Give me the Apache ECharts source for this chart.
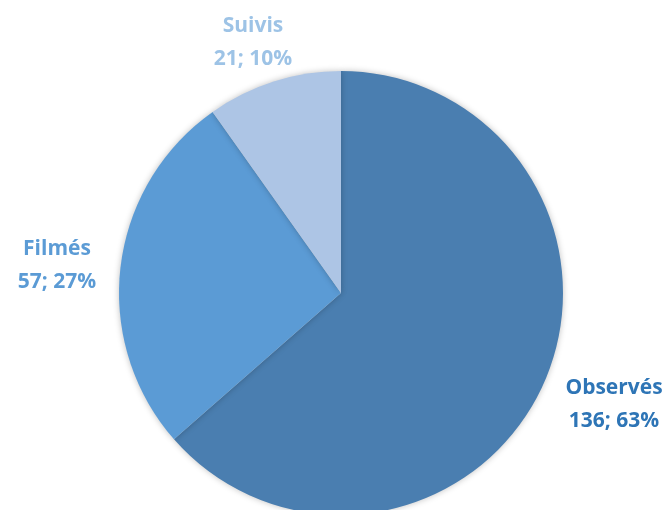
<!DOCTYPE html>
<html><head><meta charset="utf-8">
<script src="https://cdn.jsdelivr.net/npm/echarts@6/dist/echarts.min.js"></script>
<style>html,body{margin:0;padding:0;background:#fff}#c{width:668px;height:510px}</style>
</head><body><div id="c"></div>
<script>
const categories = ['Observés', 'Filmés', 'Suivis'];
const values = [136, 57, 21];
const sliceColors = ['#4a7eb0', '#5b9bd5', '#adc5e5'];
const labelColors = ['#2e75b6', '#5b9bd5', '#9dc3e6'];
const labelPos = [[614, 405], [57, 266], [253, 43]];

const chart = echarts.init(document.getElementById('c'));
chart.setOption({
  animation: false,
  series: [{
    type: 'pie',
    center: [341, 293],
    radius: 222,
    startAngle: 90,
    clockwise: true,
    percentPrecision: 0,
    avoidLabelOverlap: false,
    labelLine: { show: false },
    itemStyle: { shadowBlur: 6, shadowColor: 'rgba(0,0,0,0.25)' },
    emphasis: { disabled: true },
    label: {
      show: true,
      position: 'outside',
      formatter: '{b}\n{c}; {d}%',
      fontFamily: 'Open Sans',
      fontWeight: 'bold',
      fontSize: 21,
      lineHeight: 33,
      align: 'center'
    },
    labelLayout: function (p) {
      const q = labelPos[p.dataIndex];
      return { x: q[0], y: q[1], align: 'center', verticalAlign: 'middle' };
    },
    data: categories.map((n, i) => ({
      name: n, value: values[i],
      itemStyle: { color: sliceColors[i] },
      label: { color: labelColors[i] }
    }))
  }]
});
</script></body></html>
